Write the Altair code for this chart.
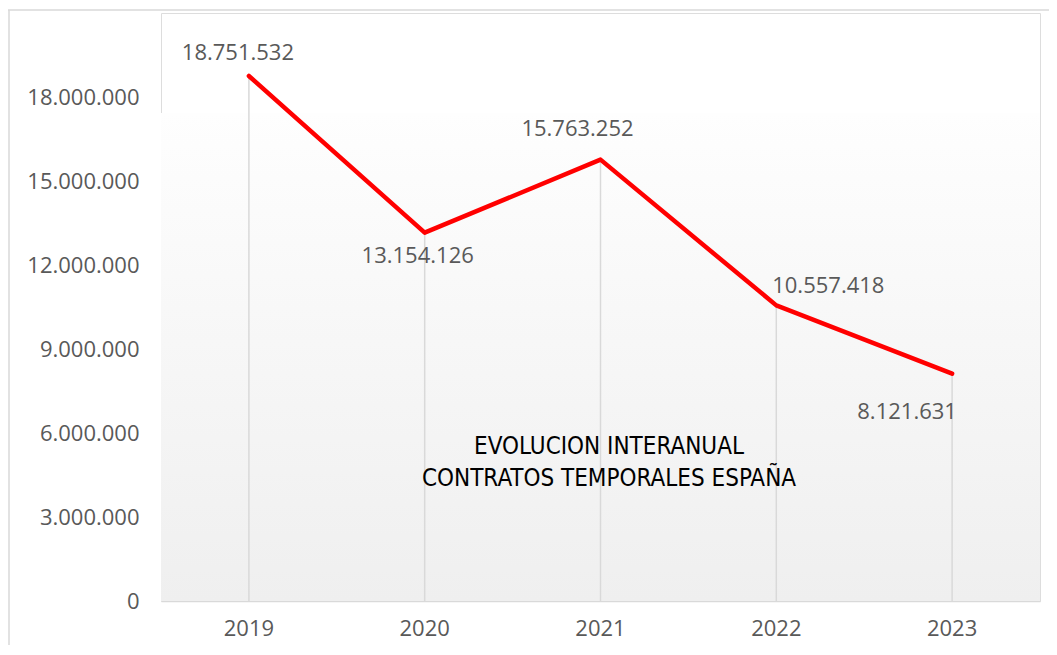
import altair as alt
import pandas as pd

years = ["2019", "2020", "2021", "2022", "2023"]
values = [18751532, 13154126, 15763252, 10557418, 8121631]
y_ticks = [0, 3000000, 6000000, 9000000, 12000000, 15000000, 18000000]
title_lines = ["EVOLUCION INTERANUAL", "CONTRATOS TEMPORALES ESPAÑA"]

df = pd.DataFrame({
    "year": years,
    "value": values,
    "label": [f"{v:,}".replace(",", ".") for v in values],
})

W, H = 879, 588
GRAY_TXT = "#595959"
FONT = "Open Sans"
FS = 22

x_enc = alt.X("year:N", sort=years,
              scale=alt.Scale(paddingInner=0, paddingOuter=0),
              axis=alt.Axis(title=None, labelAngle=0, labelFontSize=FS, labelColor=GRAY_TXT,
                            labelFont=FONT, ticks=False, domainColor="#d9d9d9", domainWidth=1.5,
                            labelPadding=17, grid=False))
y_scale = alt.Scale(domain=[0, 21000000], nice=False, zero=True)
y_enc = alt.Y("value:Q", scale=y_scale,
              axis=alt.Axis(title=None, values=y_ticks, grid=False, domain=False, ticks=False,
                            labelFontSize=FS, labelColor=GRAY_TXT, labelFont=FONT, labelPadding=22,
                            labelExpr="replace(format(datum.value, ','), regexp(',', 'g'), '.')"))

base = alt.Chart(df)

# plot-area gradient fill
grad = alt.Chart(pd.DataFrame({"lo": [0], "hi": [17430000]})).mark_rect(
    color=alt.Gradient(gradient="linear",
                       stops=[alt.GradientStop(color="#fefefe", offset=0),
                              alt.GradientStop(color="#efefef", offset=1)],
                       x1=0, x2=0, y1=0, y2=1)
).encode(
    x=alt.value(0), x2=alt.value(W),
    y=alt.Y("lo:Q", scale=y_scale), y2="hi:Q",
)

drop = base.mark_rule(color="#d9d9d9", strokeWidth=1.5).encode(
    x=x_enc, y=y_enc, y2=alt.datum(0)
)

line = base.mark_line(color="#ff0000", strokeWidth=4.5, strokeCap="round", strokeJoin="round").encode(
    x=x_enc, y=y_enc
)

offsets = {"2019": (-11, -23), "2020": (-7, 23), "2021": (-23, -31), "2022": (52, -19), "2023": (-45, 38)}
labels = []
for yr in years:
    dx, dy = offsets[yr]
    labels.append(
        base.transform_filter(alt.datum.year == yr).mark_text(
            fontSize=FS, font=FONT, color=GRAY_TXT, dx=dx, dy=dy, baseline="middle", align="center"
        ).encode(x=x_enc, y=y_enc, text="label:N")
    )

title = alt.Chart(pd.DataFrame({"t": [title_lines]})).mark_text(
    font="Liberation Sans Narrow, DejaVu Sans Condensed, Open Sans", fontSize=24, color="#000000",
    lineHeight=32, baseline="middle", align="center"
).encode(x=alt.value(448), y=alt.value(434), text="t")

frame_top = alt.Chart(pd.DataFrame({"a": [0]})).mark_rule(color="#d9d9d9", strokeWidth=1.5).encode(
    x=alt.value(-153), x2=alt.value(W + 9), y=alt.value(-3)
)
frame_left = alt.Chart(pd.DataFrame({"a": [0]})).mark_rule(color="#d9d9d9", strokeWidth=1.5).encode(
    x=alt.value(-152), y=alt.value(-3), y2=alt.value(H + 60)
)

chart = alt.layer(grad, drop, line, *labels, title, frame_top, frame_left).properties(
    width=W, height=H,
    autosize=alt.AutoSizeParams(type="none"),
    padding={"left": 153, "top": 5, "right": 9, "bottom": 44},
).configure_view(stroke=None).configure(background="white")

chart.save("out.html", embed_options={"renderer": "svg", "actions": False})
